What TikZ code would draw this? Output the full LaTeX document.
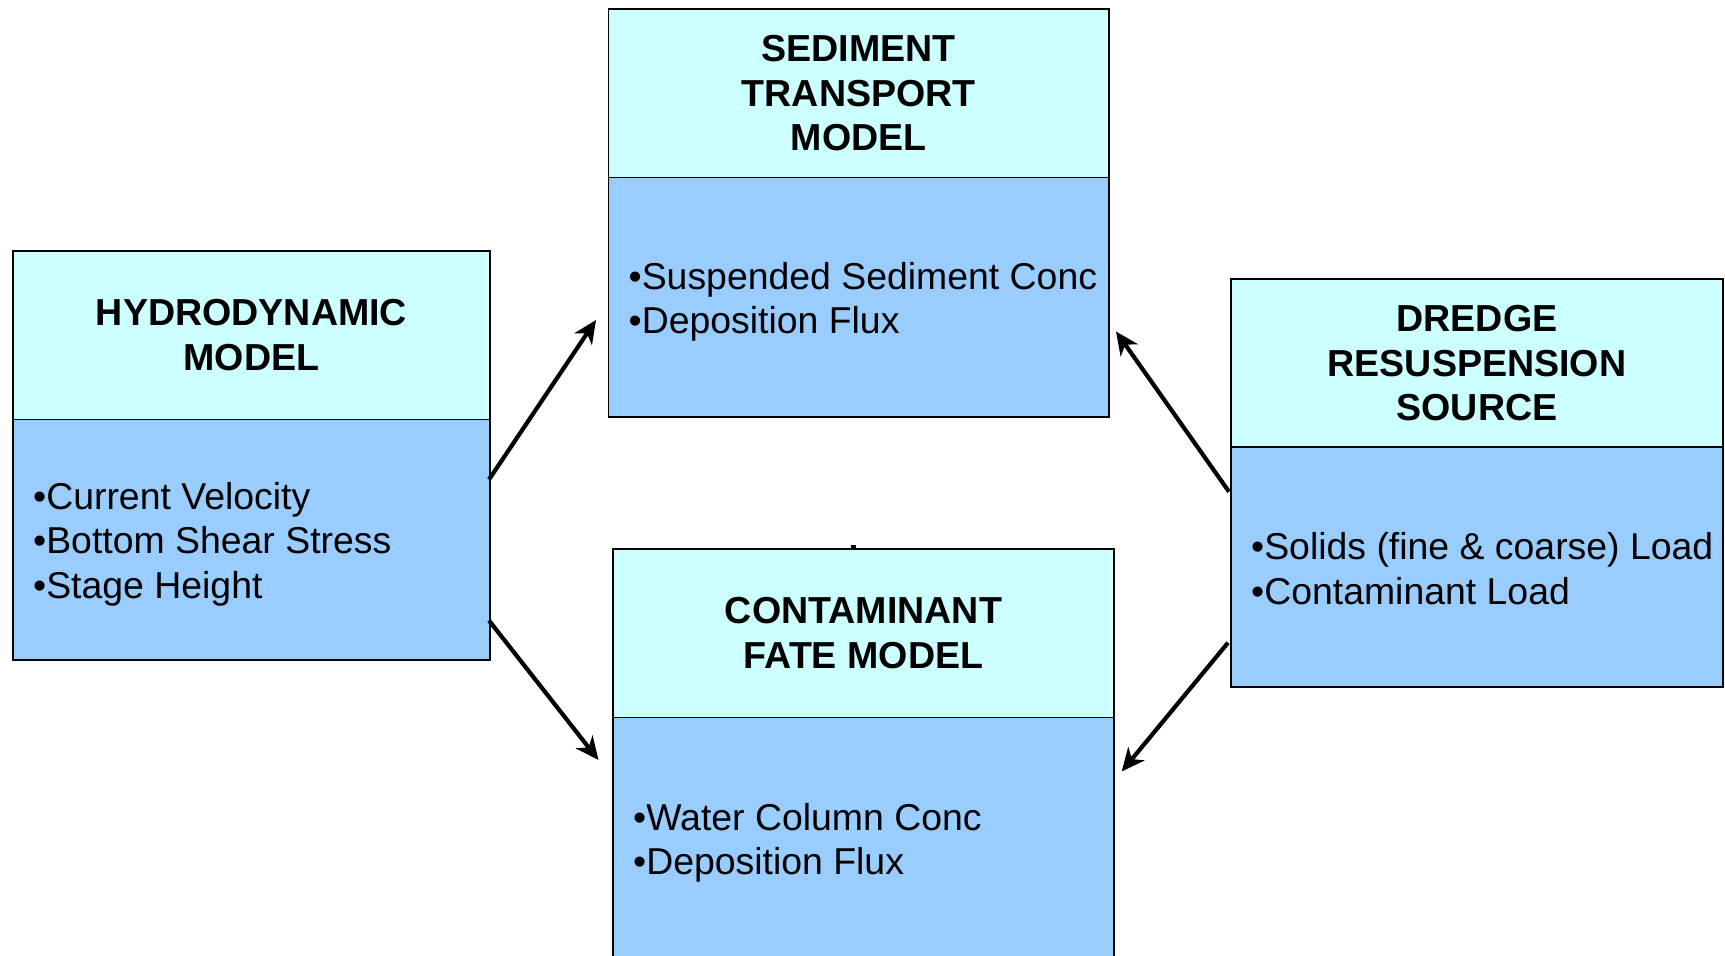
\documentclass[tikz,border=0pt]{standalone}
\usepackage{fontspec}
\setmainfont{Liberation Sans}
\usetikzlibrary{arrows.meta}
\definecolor{hdrfill}{HTML}{CCFFFF}
\definecolor{bodyfill}{HTML}{99CCFF}
\begin{document}
\begin{tikzpicture}[x=1pt,y=-1pt,
  hdrbox/.style={draw=black, line width=1.7pt, fill=hdrfill, rectangle, inner sep=0pt, outer sep=0pt,
    anchor=north west, align=center, font=\fontsize{37.6}{44.8}\selectfont\bfseries},
  bodybox/.style={draw=black, line width=1.7pt, fill=bodyfill, rectangle, inner sep=0pt, outer sep=0pt,
    anchor=north west},
  bodytext/.style={anchor=west, align=left, inner sep=0pt, font=\fontsize{37.4}{44.6}\selectfont},
  flow/.style={line width=4.2pt, -{Stealth[length=23pt,width=21pt,inset=7pt]}}
]
\useasboundingbox[fill=white] (0,0) rectangle (1725,956);

% Hydrodynamic model
\node[hdrbox, minimum width=477pt, minimum height=168.5pt] (hydroH) at (13,251) {HYDRODYNAMIC\\MODEL};
\node[bodybox, minimum width=477pt, minimum height=240.5pt] (hydroB) at (hydroH.south west) {};
\node[bodytext] (hydroT) at ([xshift=20pt,yshift=-4.4pt]hydroB.west) {•Current Velocity\\•Bottom Shear Stress\\•Stage Height};

% Sediment transport model
\node[hdrbox, minimum width=500.5pt, minimum height=168.5pt] (sedH) at (608.5,9) {SEDIMENT\\TRANSPORT\\MODEL};
\node[bodybox, minimum width=500.5pt, minimum height=239.5pt] (sedB) at (sedH.south west) {};
\node[bodytext] (sedT) at ([xshift=20pt,yshift=-4.4pt]sedB.west) {•Suspended Sediment Conc\\•Deposition Flux};

% Contaminant fate model
\node[hdrbox, minimum width=501pt, minimum height=168.5pt] (contH) at (613,549) {CONTAMINANT\\FATE MODEL};
\node[bodybox, minimum width=501pt, minimum height=282.5pt] (contB) at (contH.south west) {};
\node[bodytext] (contT) at ([xshift=20pt,yshift=-125.4pt]contB.north west) {•Water Column Conc\\•Deposition Flux};

% Dredge resuspension source
\node[hdrbox, minimum width=492pt, minimum height=168.3pt] (dredH) at (1231,279) {DREDGE\\RESUSPENSION\\SOURCE};
\node[bodybox, minimum width=492pt, minimum height=239.4pt] (dredB) at (dredH.south west) {};
\node[bodytext] (dredT) at ([xshift=20pt,yshift=-1.5pt]dredB.west) {•Solids (fine \& coarse) Load\\•Contaminant Load};

% connector end points
\coordinate (a1s) at (489,479.5);
\coordinate (a1e) at (596,320);
\coordinate (a2s) at (489,620.5);
\coordinate (a2e) at (598.5,760);
\coordinate (a3s) at (1229,491.7);
\coordinate (a3e) at (1116,331.5);
\coordinate (a4s) at (1228,642.7);
\coordinate (a4e) at (1121.7,771.5);

\draw[flow] (a1s) -- (a1e);
\draw[flow] (a2s) -- (a2e);
\draw[flow] (a3s) -- (a3e);
\draw[flow] (a4s) -- (a4e);

% small tick above the contaminant box
\fill[black] (850.5,545) rectangle (855.5,549);
\end{tikzpicture}
\end{document}
